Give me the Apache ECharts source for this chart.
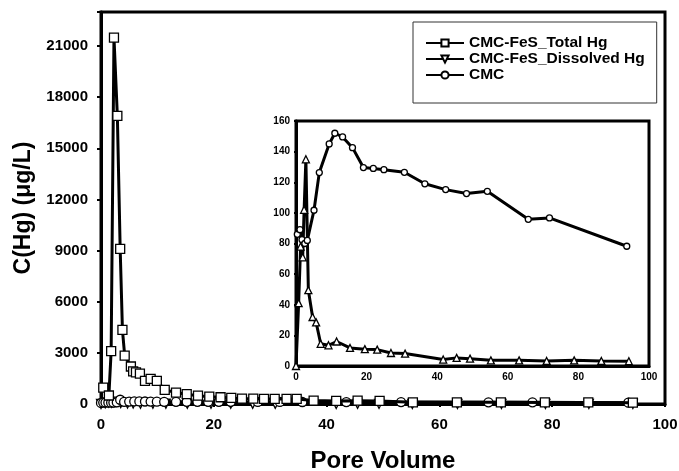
<!DOCTYPE html>
<html>
<head>
    <meta charset="utf-8">
    <title>C(Hg) vs Pore Volume</title>
    <script src="https://cdn.jsdelivr.net/npm/echarts@6/dist/echarts.min.js"></script>
    <style>
        html, body { margin: 0; padding: 0; background: #fff; }
        #chart { width: 679px; height: 471px; }
    </style>
</head>
<body>
    <div id="chart"></div>
    <script>
        // main plot: total Hg from CMC-FeS run
        const totalPV = [0.4, 1.4, 1.8, 2.3, 2.9, 3.4, 3.8, 4.2, 5.3, 5.7, 6.2, 6.9, 7.8, 8.8, 9.9, 11.3, 13.3, 15.2, 17.2, 19.2,
            21.2, 23.1, 25.0, 27.0, 28.9, 30.8, 32.9, 34.7, 37.7, 41.7, 45.5, 49.4, 55.3, 63.1, 70.9, 78.7, 86.4, 94.3];
        const totalHg = [960, 500, 3100, 21500, 16900, 9100, 4350, 2840, 2200, 1910, 1850, 1780, 1360, 1480, 1360, 830, 670, 575, 490, 430,
            395, 355, 315, 315, 295, 295, 295, 295, 200, 180, 195, 180, 100, 100, 100, 90, 90, 80];

        // dissolved Hg (main plot and inset)
        const dissPV = [0, 0.75, 1.3, 1.9, 2.3, 2.8, 3.5, 4.7, 5.7, 7.0, 9.2, 11.5, 15.3, 19.5, 23.0, 26.9, 30.9,
            41.7, 45.5, 49.3, 55.2, 63.2, 71.0, 78.8, 86.5, 94.3];
        const dissHg = [0, 41, 78, 71, 102, 135, 49.5, 32, 28.5, 14.5, 13.5, 16, 11.8, 11, 10.7, 8.5, 8.1,
            4.2, 5.3, 4.8, 3.7, 3.7, 3.3, 3.7, 3.3, 3.1];

        // CMC markers along the bottom of the main plot
        const mainCmcPV = [0, 0.4, 0.8, 1.3, 1.8, 2.2, 2.8, 3.4, 4.1, 5.0, 5.9, 6.8, 7.8, 8.8, 9.9, 11.2, 13.3, 15.2, 17.1, 19.0,
            20.9, 23.0, 27.8, 31.7, 35.7, 43.5, 53.2, 68.7, 76.5, 93.5];
        const mainCmcHg = [60, 86, 89, 82, 80, 82, 101, 250, 126, 145, 152, 150, 146, 142, 136, 130, 129, 129, 128, 127,
            127, 126, 122, 119, 116, 115, 113, 100, 96, 78];

        // CMC in the inset
        const cmcPV = [0.37, 1.13, 1.7, 2.5, 3.2, 5.1, 6.6, 9.4, 11.0, 13.2, 16.0, 19.1, 21.9, 24.9, 30.7, 36.5,
            42.4, 48.3, 54.2, 65.8, 71.8, 93.7];
        const cmcHg = [86, 89, 82.5, 80, 82, 101.7, 126.3, 145, 152, 149.6, 142.6, 129.6, 129, 128.2, 126.5, 119,
            115.2, 112.6, 114.1, 95.8, 96.7, 78.2];

        const seriesNames = ['CMC-FeS_Total Hg', 'CMC-FeS_Dissolved Hg', 'CMC'];

        const zip = (xs, ys) => xs.map((x, i) => [x, ys[i]]);
        const FONT = '"Liberation Sans", Arial, sans-serif';

        const chart = echarts.init(document.getElementById('chart'));

        function lineSeries(name, data, symbol, size, gi, extra) {
            return Object.assign({
                name: name,
                type: 'line',
                xAxisIndex: gi,
                yAxisIndex: gi,
                data: data,
                symbol: symbol,
                symbolSize: size,
                showAllSymbol: true,
                lineStyle: { color: '#000', width: 3 },
                itemStyle: { color: '#fff', borderColor: '#000', borderWidth: 1.3 },
                emphasis: { disabled: true }
            }, extra || {});
        }

        const axisLine = { show: true, lineStyle: { color: '#000', width: 3 } };

        const option = {
            animation: false,
            backgroundColor: '#fff',
            textStyle: { fontFamily: FONT },
            legend: {
                data: seriesNames,
                orient: 'vertical',
                left: 413,
                top: 22,
                itemWidth: 38,
                itemHeight: 9,
                itemGap: 0,
                padding: [13, 12, 20, 12],
                borderColor: '#333',
                borderWidth: 1,
                backgroundColor: '#fff',
                textStyle: { fontFamily: FONT, fontWeight: 'bold', fontSize: 15.5, lineHeight: 13, color: '#000' }
            },
            grid: [
                { left: 101, top: 12, width: 564, height: 392, show: true, borderColor: '#000', borderWidth: 3, outerBoundsMode: 'none', containLabel: false },
                { left: 296, top: 121, width: 353, height: 245, show: true, borderColor: '#000', borderWidth: 3, backgroundColor: '#fff', outerBoundsMode: 'none', containLabel: false }
            ],
            xAxis: [
                {
                    gridIndex: 0, type: 'value', min: 0, max: 100, interval: 20,
                    name: 'Pore Volume', nameLocation: 'middle', nameGap: 45,
                    nameTextStyle: { fontFamily: FONT, fontWeight: 'bold', fontSize: 24, color: '#000' },
                    axisLine: axisLine,
                    axisTick: { show: true, inside: false, length: 3, lineStyle: { color: '#000', width: 2 } },
                    axisLabel: { fontFamily: FONT, fontWeight: 'bold', fontSize: 15, color: '#000', margin: 13 },
                    splitLine: { show: false }
                },
                {
                    gridIndex: 1, type: 'value', min: 0, max: 100, interval: 20,
                    axisLine: axisLine,
                    axisTick: { show: true, inside: false, length: 2, lineStyle: { color: '#000', width: 2 } },
                    axisLabel: { fontFamily: FONT, fontWeight: 'bold', fontSize: 10, color: '#000', margin: 6 },
                    splitLine: { show: false }
                }
            ],
            yAxis: [
                {
                    gridIndex: 0, type: 'value', min: 0, max: 23000, interval: 3000,
                    name: 'C(Hg) (\u03bcg/L)', nameLocation: 'middle', nameGap: 66, nameRotate: 90,
                    nameTextStyle: { fontFamily: FONT, fontWeight: 'bold', fontSize: 23, color: '#000' },
                    axisLine: axisLine,
                    axisTick: { show: true, inside: false, length: 4, lineStyle: { color: '#000', width: 2 } },
                    axisLabel: {
                        fontFamily: FONT, fontWeight: 'bold', fontSize: 15, color: '#000', margin: 13,
                        formatter: v => (v > 21000 ? '' : String(v))
                    },
                    splitLine: { show: false }
                },
                {
                    gridIndex: 1, type: 'value', min: 0, max: 160, interval: 20,
                    axisLine: axisLine,
                    axisTick: { show: true, inside: false, length: 2, lineStyle: { color: '#000', width: 2 } },
                    axisLabel: { fontFamily: FONT, fontWeight: 'bold', fontSize: 10, color: '#000', margin: 6 },
                    splitLine: { show: false }
                }
            ],
            series: [
                lineSeries(seriesNames[0], zip(totalPV, totalHg), 'rect', 9, 0, { z: 4 }),
                lineSeries(seriesNames[1], zip(dissPV, dissHg), 'triangle', 9, 0, { symbolRotate: 180, z: 2 }),
                lineSeries(seriesNames[2], zip(mainCmcPV, mainCmcHg), 'circle', 9, 0, { z: 3 }),
                lineSeries(seriesNames[1], zip(dissPV, dissHg), 'triangle', 7, 1, { z: 6 }),
                lineSeries(seriesNames[2], zip(cmcPV, cmcHg), 'circle', 6, 1, { z: 6 })
            ]
        };

        chart.setOption(option);

        window.addEventListener('resize', function () {
            chart.resize();
        });
    </script>
</body>
</html>
